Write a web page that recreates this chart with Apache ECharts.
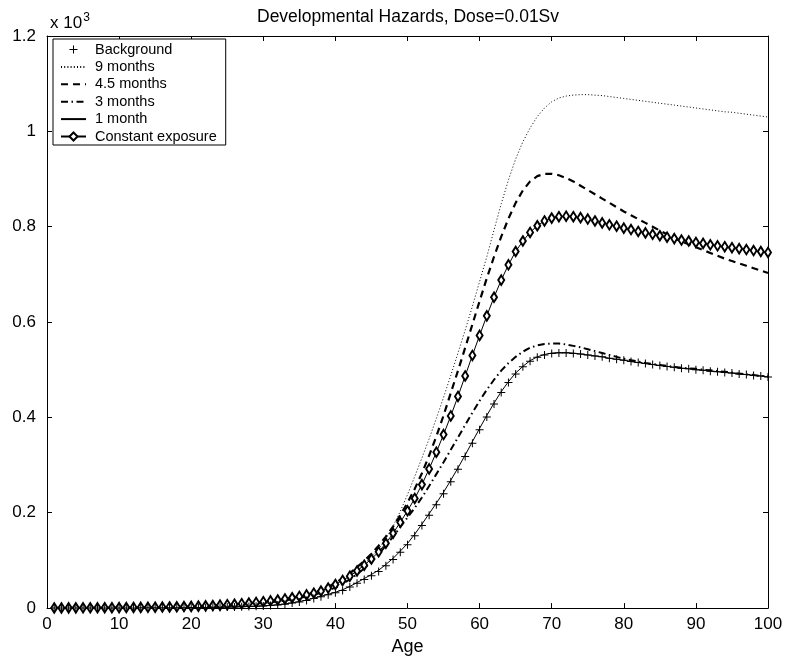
<!DOCTYPE html>
<html>
<head>
<meta charset="utf-8">
<script src="https://cdn.jsdelivr.net/npm/echarts@6/dist/echarts.min.js"></script>
<style>html,body{margin:0;padding:0;background:#fff}#c{width:787px;height:661px}</style>
</head>
<body>
<div id="c"></div>
<script>
const title = 'Developmental Hazards, Dose=0.01Sv';
const xName = 'Age';
const seriesNames = ['Background', '9 months', '4.5 months', '3 months', '1 month', 'Constant exposure'];
const ages = [1,2,3,4,5,6,7,8,9,10,11,12,13,14,15,16,17,18,19,20,21,22,23,24,25,26,27,28,29,30,
31,32,33,34,35,36,37,38,39,40,41,42,43,44,45,46,47,48,49,50,51,52,53,54,55,56,57,58,59,60,
61,62,63,64,65,66,67,68,69,70,71,72,73,74,75,76,77,78,79,80,81,82,83,84,85,86,87,88,89,90,
91,92,93,94,95,96,97,98,99,100];
// values in units of 10^3
const background = [
0.0001,0.0001,0.0001,0.0002,0.0002,0.0002,0.0002,0.0003,0.0003,0.0003,
0.0004,0.0004,0.0005,0.0005,0.0006,0.0007,0.0007,0.0008,0.0009,0.0011,
0.0013,0.0015,0.0017,0.0019,0.0022,0.0025,0.0028,0.0032,0.0037,0.0043,
0.0052,0.0065,0.0083,0.0105,0.013,0.016,0.020,0.024,0.028,0.032,
0.037,0.044,0.052,0.060,0.068,0.077,0.089,0.102,0.117,0.133,
0.152,0.173,0.195,0.217,0.240,0.265,0.291,0.318,0.346,0.374,
0.401,0.428,0.452,0.473,0.491,0.506,0.518,0.526,0.531,0.534,
0.535,0.535,0.534,0.533,0.531,0.529,0.527,0.524,0.522,0.520,
0.517,0.515,0.513,0.511,0.509,0.507,0.505,0.503,0.502,0.500,
0.499,0.497,0.496,0.494,0.493,0.491,0.490,0.488,0.487,0.485];
const months9 = [
0.0003,0.0003,0.0004,0.0004,0.0005,0.0005,0.0006,0.0007,0.0008,0.0009,
0.0010,0.0011,0.0013,0.0015,0.0017,0.0019,0.0022,0.0025,0.0029,0.0033,
0.0038,0.0044,0.0050,0.0058,0.0066,0.0076,0.0087,0.0100,0.0114,0.0130,
0.0148,0.0168,0.0191,0.0217,0.0246,0.0280,0.0318,0.0362,0.0420,0.0500,
0.060,0.069,0.080,0.093,0.107,0.124,0.146,0.172,0.203,0.238,
0.276,0.315,0.355,0.398,0.442,0.488,0.535,0.583,0.633,0.685,
0.737,0.793,0.848,0.898,0.942,0.978,1.007,1.031,1.049,1.062,
1.070,1.074,1.076,1.077,1.077,1.076,1.075,1.073,1.071,1.069,
1.067,1.065,1.063,1.061,1.059,1.057,1.055,1.053,1.051,1.049,
1.047,1.045,1.043,1.041,1.040,1.038,1.036,1.034,1.032,1.030];
const months45 = [
0.0003,0.0004,0.0004,0.0005,0.0005,0.0006,0.0007,0.0008,0.0008,0.0009,
0.0011,0.0012,0.0014,0.0016,0.0018,0.0020,0.0023,0.0026,0.0030,0.0034,
0.0039,0.0045,0.0051,0.0059,0.0068,0.0078,0.0089,0.0102,0.0116,0.0132,
0.0150,0.0170,0.0193,0.0219,0.0249,0.0284,0.0324,0.0375,0.0445,0.053,
0.062,0.073,0.086,0.099,0.114,0.131,0.150,0.171,0.195,0.221,
0.250,0.283,0.320,0.360,0.404,0.451,0.498,0.546,0.595,0.644,
0.692,0.737,0.779,0.817,0.850,0.876,0.895,0.906,0.911,0.911,
0.908,0.902,0.895,0.886,0.877,0.868,0.859,0.850,0.841,0.832,
0.824,0.816,0.808,0.800,0.792,0.784,0.776,0.769,0.763,0.757,
0.751,0.745,0.739,0.733,0.728,0.723,0.718,0.713,0.708,0.703];
const months3 = [
0.0002,0.0003,0.0003,0.0004,0.0004,0.0005,0.0005,0.0006,0.0007,0.0007,
0.0008,0.0009,0.0011,0.0012,0.0014,0.0016,0.0018,0.0020,0.0023,0.0026,
0.0030,0.0034,0.0039,0.0045,0.0052,0.0060,0.0069,0.0080,0.0092,0.0106,
0.0122,0.0140,0.0161,0.0185,0.0212,0.0243,0.0279,0.0320,0.0370,0.0430,
0.051,0.060,0.071,0.083,0.097,0.113,0.131,0.150,0.170,0.190,
0.210,0.232,0.256,0.281,0.306,0.332,0.358,0.384,0.410,0.435,
0.458,0.479,0.498,0.514,0.527,0.538,0.546,0.551,0.554,0.555,
0.555,0.553,0.550,0.547,0.543,0.539,0.535,0.531,0.527,0.523,
0.520,0.517,0.514,0.512,0.510,0.508,0.506,0.504,0.503,0.502,
0.500,0.499,0.497,0.496,0.494,0.492,0.490,0.489,0.487,0.486];
const month1 = [
0.0001,0.0001,0.0002,0.0002,0.0002,0.0002,0.0003,0.0003,0.0003,0.0004,
0.0004,0.0005,0.0005,0.0006,0.0007,0.0007,0.0008,0.0009,0.0010,0.0012,
0.0014,0.0016,0.0018,0.0021,0.0024,0.0027,0.0031,0.0035,0.0040,0.0047,
0.0056,0.0070,0.0088,0.0110,0.0136,0.0167,0.0207,0.0248,0.0290,0.0332,
0.0385,0.0455,0.0535,0.0620,0.0705,0.0795,0.0915,0.1045,0.1195,0.1355,
0.155,0.176,0.198,0.220,0.243,0.268,0.294,0.321,0.349,0.377,
0.404,0.430,0.454,0.475,0.493,0.507,0.519,0.527,0.532,0.535,
0.536,0.536,0.535,0.533,0.531,0.529,0.527,0.524,0.522,0.520,
0.517,0.515,0.513,0.511,0.509,0.507,0.505,0.503,0.502,0.500,
0.499,0.497,0.496,0.494,0.493,0.491,0.490,0.488,0.487,0.485];
const constant = [
0.0004,0.0004,0.0005,0.0005,0.0006,0.0007,0.0007,0.0008,0.0009,0.0010,
0.0012,0.0013,0.0015,0.0017,0.0019,0.0022,0.0025,0.0028,0.0032,0.0036,
0.0041,0.0047,0.0054,0.0062,0.0071,0.0081,0.0092,0.0105,0.0119,0.0134,
0.0151,0.0170,0.0192,0.0217,0.0245,0.0277,0.0313,0.0357,0.0420,0.0495,
0.058,0.067,0.078,0.090,0.103,0.118,0.136,0.157,0.180,0.204,
0.230,0.259,0.292,0.327,0.364,0.403,0.444,0.487,0.530,0.572,
0.613,0.652,0.688,0.720,0.748,0.770,0.788,0.802,0.812,0.818,
0.821,0.822,0.821,0.819,0.816,0.812,0.808,0.804,0.801,0.797,
0.794,0.790,0.787,0.784,0.781,0.778,0.775,0.772,0.770,0.767,
0.765,0.762,0.760,0.758,0.756,0.754,0.752,0.750,0.748,0.746];

const FONT = '"Liberation Sans", Arial, Helvetica, sans-serif';
const pair = arr => ages.map((a, i) => [a, arr[i]]);
const PLUS = 'path://M8.75,0H11.25V8.75H20V11.25H11.25V20H8.75V11.25H0V8.75H8.75Z';

const chart = echarts.init(document.getElementById('c'), null, {renderer: 'canvas'});
const axisCommon = {
  axisLine: {show: true, onZero: false, lineStyle: {color: '#000', width: 1}},
  axisTick: {show: true, inside: true, length: 5, lineStyle: {color: '#000'}},
  splitLine: {show: false}
};
const lineOnly = {0: false, 1: true, 2: true, 3: true, 4: true, 5: false};
chart.setOption({
  animation: false,
  backgroundColor: '#fff',
  title: {
    text: title, left: 252, top: 3,
    textStyle: {fontFamily: FONT, fontSize: 17.5, fontWeight: 'normal', color: '#000'}
  },
  graphic: [{
    type: 'text', left: 50, top: 12,
    style: {
      text: '{a|x 10}{b|3}',
      rich: {
        a: {fontFamily: FONT, fontSize: 17, fill: '#000', verticalAlign: 'bottom'},
        b: {fontFamily: FONT, fontSize: 12, fill: '#000', verticalAlign: 'top', padding: [0, 0, 8, 1]}
      }
    }
  }],
  grid: {left: 47, right: 19, top: 36, bottom: 48, containLabel: false},
  legend: {
    orient: 'vertical', left: 53, top: 39,
    itemWidth: 25, itemHeight: 10, itemGap: 2.4,
    padding: [3, 9, 1, 7],
    borderColor: '#000', borderWidth: 1, backgroundColor: '#fff',
    textStyle: {fontFamily: FONT, fontSize: 14.5, color: '#000', padding: [0, 0, 0, 4]},
    data: seriesNames.map((n, i) => lineOnly[i] ? {name: n, itemStyle: {opacity: 0}} : {name: n})
  },
  xAxis: [
    Object.assign({type: 'value', min: 0, max: 100, interval: 10, position: 'bottom',
      name: xName, nameLocation: 'middle', nameGap: 27,
      nameTextStyle: {fontFamily: FONT, fontSize: 18, color: '#000'},
      axisLabel: {fontFamily: FONT, fontSize: 17, color: '#000', margin: 8}}, axisCommon),
    Object.assign({type: 'value', min: 0, max: 100, interval: 10, position: 'top',
      axisLabel: {show: false}}, axisCommon)
  ],
  yAxis: [
    Object.assign({type: 'value', min: 0, max: 1.2, interval: 0.2, position: 'left',
      axisLabel: {fontFamily: FONT, fontSize: 17, color: '#000', margin: 11}}, axisCommon),
    Object.assign({type: 'value', min: 0, max: 1.2, interval: 0.2, position: 'right',
      axisLabel: {show: false}}, axisCommon)
  ],
  series: [
    {name: seriesNames[0], type: 'line', data: pair(background), symbol: PLUS, symbolSize: 8,
      showSymbol: true, itemStyle: {color: '#000'}, lineStyle: {color: '#000', width: 0, opacity: 0}, z: 5},
    {name: seriesNames[1], type: 'line', data: pair(months9), symbol: 'none',
      itemStyle: {color: '#000'}, lineStyle: {color: '#000', width: 1, type: [1, 2.2]}},
    {name: seriesNames[2], type: 'line', data: pair(months45), symbol: 'none',
      itemStyle: {color: '#000'}, lineStyle: {color: '#000', width: 2.2, type: [7, 5]}},
    {name: seriesNames[3], type: 'line', data: pair(months3), symbol: 'none',
      itemStyle: {color: '#000'}, lineStyle: {color: '#000', width: 2, type: [7, 3.5, 1.5, 3.5]}},
    {name: seriesNames[4], type: 'line', data: pair(month1), symbol: 'none',
      itemStyle: {color: '#000'}, lineStyle: {color: '#000', width: 1}},
    {name: seriesNames[5], type: 'line', data: pair(constant), symbol: 'emptyDiamond', symbolSize: [6, 9.5],
      showSymbol: true, itemStyle: {color: '#000', borderWidth: 0.8}, lineStyle: {color: '#000', width: 1}, z: 4}
  ]
});
</script>
</body>
</html>
